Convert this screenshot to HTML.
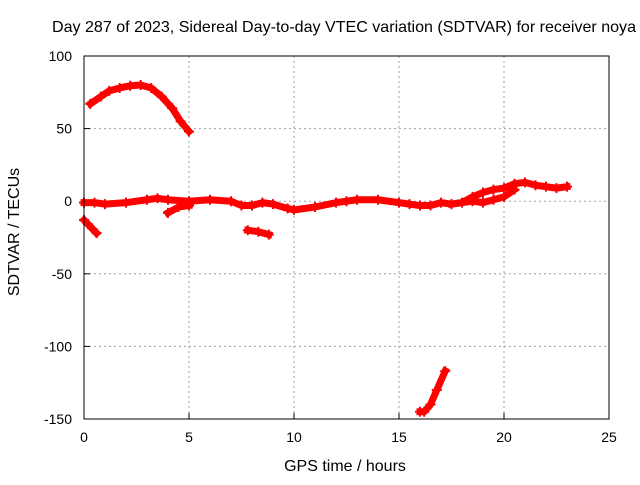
<!DOCTYPE html>
<html><head><meta charset="utf-8"><style>
body{margin:0;background:#fff}
svg text{font-family:"Liberation Sans",sans-serif;font-size:14px;fill:#000}
svg text.big{font-size:16px}
</style></head><body>
<svg id="c" width="640" height="480" xmlns="http://www.w3.org/2000/svg">
<text class="big" x="52" y="32" textLength="584" lengthAdjust="spacingAndGlyphs">Day 287 of 2023, Sidereal Day-to-day VTEC variation (SDTVAR) for receiver noya</text>
<text class="big" x="345" y="471" text-anchor="middle">GPS time / hours</text>
<text class="big" transform="translate(19,232) rotate(-90)" text-anchor="middle">SDTVAR / TECUs</text>
<g id="grid"></g><g id="marks"></g>
<rect x="84" y="56" width="525" height="363" fill="none" stroke="#000" stroke-width="1"/>
</svg>
<script>
const xTicks=[0,5,10,15,20,25];
const yTicks=[100,50,0,-50,-100,-150];
const arcX=[0.3,0.8,1.2,1.7,2.2,2.7,3.2,3.7,4.2,4.6,5.0];
const arcY=[67,72,76,78,79.5,80,78,72,64,55,48];
const mainX=[0,0.5,1,2,3,3.5,4,5,6,7,7.5,8,8.5,9,9.7,10,11,12,12.5,13,14,15,15.5,16,16.5,17,17.5,18,18.5,19,19.5,20,20.5,21,21.5,22,22.5,23];
const mainY=[-1,-1,-2,-1,1,2,1,0,1,0,-3,-3,-1,-2,-5,-6,-4,-1,0,1,1,-1,-2,-3,-3,-1,-2,-1,3,6,8,9,12,13,11,10,9,10];
const branch1X=[4,4.5,5];const branch1Y=[-8,-4,-3];
const branch2X=[17.5,18.5,19,19.5,20,20.5];const branch2Y=[-2,0,-1,1,3,8];
const s3X=[0,0.2,0.6];const s3Y=[-13,-16,-22];
const s4X=[7.8,8.3,8.8];const s4Y=[-20,-21,-23];
const s5X=[16,16.2,16.5,16.8,17.2];const s5Y=[-145,-145,-140,-130,-117];
const NS="http://www.w3.org/2000/svg";
const X=v=>84+v*21, Y=v=>201.2-v*1.452;
const grid=document.getElementById('grid'),marks=document.getElementById('marks');
function mk(t,a,p){const e=document.createElementNS(NS,t);for(const k in a)e.setAttribute(k,a[k]);p.appendChild(e);return e;}
xTicks.forEach(t=>{
 if(t>0&&t<25){const l=mk('line',{x1:X(t),x2:X(t),y1:56,y2:419,stroke:'#a0a0a0','stroke-dasharray':'2,3'},grid);
 
 }
 const tk=mk('line',{x1:X(t),x2:X(t),y1:419,y2:413,stroke:'#000'},grid);
 
 
 const tx=mk('text',{x:X(t),y:442,'text-anchor':'middle'},grid);tx.textContent=t;
 
 
});
yTicks.forEach(t=>{
 if(t<100&&t>-150){const l=mk('line',{x1:84,x2:609,y1:Y(t),y2:Y(t),stroke:'#a0a0a0','stroke-dasharray':'2,3'},grid);
 
 }
 const tk=mk('line',{x1:84,x2:90,y1:Y(t),y2:Y(t),stroke:'#000'},grid);
 
 
 const tx=mk('text',{x:72,y:Y(t)+5,'text-anchor':'end'},grid);tx.textContent=t;
 
 
});
function series(xs,ys,name){
 const pts=xs.map((x,i)=>X(x)+','+Y(ys[i])).join(' ');
 const p=mk('polyline',{points:pts,fill:'none',stroke:'#f00','stroke-width':7,'stroke-linejoin':'round','stroke-linecap':'square'},marks);
 
 
 xs.forEach((x,i)=>{const c=mk('path',{d:`M${X(x)-5},${Y(ys[i])}h10M${X(x)},${Y(ys[i])-5}v10`,stroke:'#f00','stroke-width':2},marks);
  
  });
}
series(arcX,arcY,'series-arc');
series(mainX,mainY,'series-main');
series(branch1X,branch1Y,'series-branch-1');
series(branch2X,branch2Y,'series-branch-2');
series(s3X,s3Y,'series-early-dip');
series(s4X,s4Y,'series-mid-dip');
series(s5X,s5Y,'series-deep-dip');
</script>
</body></html>
